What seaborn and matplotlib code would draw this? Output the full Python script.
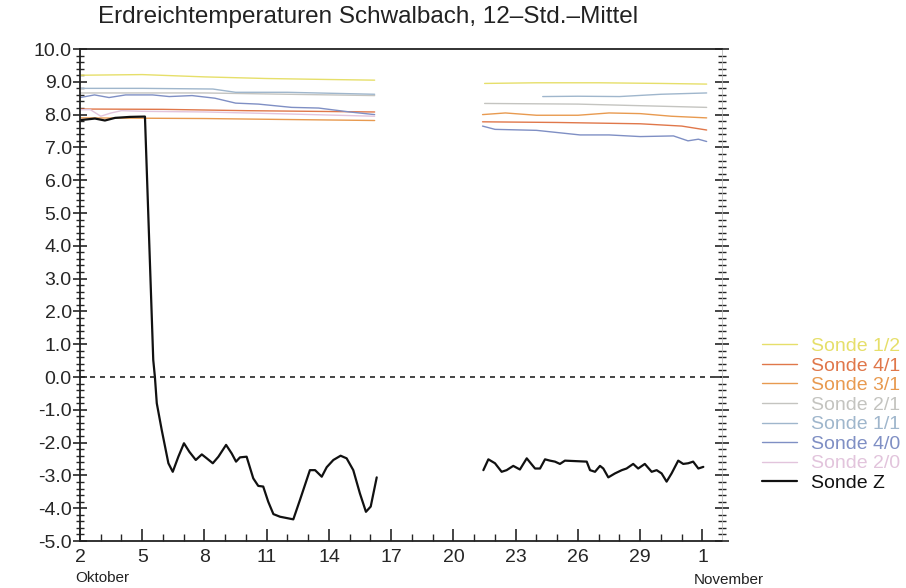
import numpy as np
import pandas as pd
import matplotlib
matplotlib.use("Agg")
import matplotlib.pyplot as plt
import seaborn as sns
from matplotlib.ticker import MultipleLocator, FixedLocator
from matplotlib.lines import Line2D

# day numbers counted in October (32 = 1. November)
z_day_1 = [2.0, 2.72, 3.2, 3.69, 4.41, 5.13, 5.53, 5.61, 5.70, 5.94, 6.26, 6.47, 6.74,
           7.01, 7.27, 7.58, 7.87, 8.11, 8.40, 8.67, 9.04, 9.31, 9.52, 9.71, 10.03,
           10.35, 10.59, 10.83, 11.07, 11.32, 11.64, 12.28, 12.60, 13.08, 13.33, 13.65,
           13.89, 14.21, 14.56, 14.85, 15.17, 15.49, 15.78, 16.01, 16.30]
z_temp_1 = [7.83, 7.88, 7.82, 7.90, 7.93, 7.94, 0.52, 0.0, -0.8, -1.62, -2.63, -2.89, -2.43,
            -2.02, -2.28, -2.53, -2.36, -2.48, -2.63, -2.43, -2.07, -2.33, -2.58, -2.45, -2.43,
            -3.09, -3.32, -3.34, -3.80, -4.18, -4.26, -4.34, -3.75, -2.84, -2.84, -3.04,
            -2.75, -2.53, -2.40, -2.48, -2.84, -3.55, -4.11, -3.95, -3.06]
z_day_2 = [21.44, 21.68, 22.0, 22.32, 22.56, 22.88, 23.2, 23.53, 23.93, 24.17, 24.41, 24.65,
           24.89, 25.13, 25.37, 26.42, 26.58, 26.82, 27.06, 27.22, 27.46, 27.78, 28.11,
           28.34, 28.66, 28.9, 29.22, 29.55, 29.79, 30.03, 30.27, 30.51, 30.83, 31.07,
           31.31, 31.55, 31.8, 32.04]
z_temp_2 = [-2.84, -2.51, -2.63, -2.89, -2.84, -2.71, -2.82, -2.48, -2.79, -2.79, -2.51, -2.55,
            -2.58, -2.65, -2.55, -2.58, -2.84, -2.89, -2.71, -2.79, -3.06, -2.94, -2.84,
            -2.79, -2.65, -2.79, -2.65, -2.89, -2.84, -2.94, -3.19, -2.94, -2.55, -2.65,
            -2.63, -2.58, -2.79, -2.74]

# Sonde 1/2
s12_day_1 = [2, 5, 8, 11, 14, 16.2]
s12_temp_1 = [9.2, 9.22, 9.15, 9.1, 9.07, 9.05]
s12_day_2 = [21.5, 24, 27, 30, 32.2]
s12_temp_2 = [8.95, 8.97, 8.97, 8.95, 8.93]
# Sonde 4/1
s41_day_1 = [2, 6, 10, 16.2]
s41_temp_1 = [8.17, 8.16, 8.12, 8.08]
s41_day_2 = [21.4, 25, 29, 31, 32.2]
s41_temp_2 = [7.78, 7.76, 7.72, 7.65, 7.53]
# Sonde 3/1
s31_day_1 = [2, 8, 12, 16.2]
s31_temp_1 = [7.9, 7.88, 7.85, 7.82]
s31_day_2 = [21.4, 22.5, 24, 26, 27.5, 29, 30.5, 32.2]
s31_temp_2 = [8.0, 8.05, 7.98, 7.98, 8.05, 8.03, 7.95, 7.9]
# Sonde 2/1
s21_day_1 = [2, 8, 12, 16.2]
s21_temp_1 = [8.66, 8.66, 8.62, 8.58]
s21_day_2 = [21.5, 26, 32.2]
s21_temp_2 = [8.34, 8.32, 8.22]
# Sonde 1/1
s11_day_1 = [2, 5, 8.4, 9.5, 12, 16.2]
s11_temp_1 = [8.8, 8.8, 8.78, 8.68, 8.68, 8.62]
s11_day_2 = [24.3, 26, 28, 30, 32.2]
s11_temp_2 = [8.55, 8.56, 8.55, 8.62, 8.66]
# Sonde 4/0
s40_day_1 = [2, 2.7, 3.4, 4.2, 5.5, 6.3, 7.4, 8.5, 9.5, 10.6, 12.2, 13.5, 15, 16.2]
s40_temp_1 = [8.52, 8.6, 8.52, 8.6, 8.6, 8.55, 8.58, 8.5, 8.35, 8.32, 8.22, 8.2, 8.08, 8.0]
s40_day_2 = [21.4, 22, 24, 26.1, 27.5, 29, 30.6, 31.3, 31.8, 32.2]
s40_temp_2 = [7.65, 7.55, 7.52, 7.38, 7.38, 7.33, 7.35, 7.2, 7.25, 7.18]
# Sonde 2/0
s20_day_1 = [2, 2.5, 3.0, 3.5, 4.0, 5.0, 8, 12, 16.2]
s20_temp_1 = [8.15, 8.15, 7.95, 8.05, 8.12, 8.1, 8.08, 8.02, 7.95]

tick_days = [2, 5, 8, 11, 14, 17, 20, 23, 26, 29, 32]
tick_labels = ["2", "5", "8", "11", "14", "17", "20", "23", "26", "29", "1"]

series = [
    ("Sonde 1/2", "#e6df6a", [(s12_day_1, s12_temp_1), (s12_day_2, s12_temp_2)]),
    ("Sonde 4/1", "#e0774a", [(s41_day_1, s41_temp_1), (s41_day_2, s41_temp_2)]),
    ("Sonde 3/1", "#e89a50", [(s31_day_1, s31_temp_1), (s31_day_2, s31_temp_2)]),
    ("Sonde 2/1", "#c4c4c0", [(s21_day_1, s21_temp_1), (s21_day_2, s21_temp_2)]),
    ("Sonde 1/1", "#9fb6cc", [(s11_day_1, s11_temp_1), (s11_day_2, s11_temp_2)]),
    ("Sonde 4/0", "#7f8fc4", [(s40_day_1, s40_temp_1), (s40_day_2, s40_temp_2)]),
    ("Sonde 2/0", "#e2c4dc", [(s20_day_1, s20_temp_1)]),
    ("Sonde Z", "#111111", [(z_day_1, z_temp_1), (z_day_2, z_temp_2)]),
]

sns.set_theme(style="ticks")
plt.rcParams["font.family"] = ["Liberation Sans", "DejaVu Sans"]

fig = plt.figure(figsize=(9.06, 5.88), dpi=100)
ax = fig.add_axes([80 / 906, 1 - 541 / 588, 642 / 906, 492 / 588])

handles = []
for name, col, segs in series:
    lw = 1.6 if name == "Sonde Z" else 1.0
    for d, t in segs:
        seg_df = pd.DataFrame({"day": d, "temp": t})
        sns.lineplot(data=seg_df, x="day", y="temp", color=col, linewidth=lw,
                     sort=False, estimator=None, ax=ax)
    handles.append(Line2D([0], [0], color=col, lw=lw, label=name))

ax.axhline(0, color="#222222", lw=1.2, ls=(0, (3, 3)))

ax.set_xlim(2, 32.94)
ax.set_ylim(-5, 10)
ax.set_xlabel("")
ax.set_ylabel("")

ax.xaxis.set_major_locator(FixedLocator(tick_days))
ax.set_xticklabels(tick_labels, fontsize=14)
ax.xaxis.set_minor_locator(MultipleLocator(1))
ax.yaxis.set_major_locator(MultipleLocator(1))
ax.yaxis.set_minor_locator(MultipleLocator(0.2))
ax.set_yticks(np.arange(-5, 10.5, 1))
ax.set_yticklabels([f"{v:.1f}" for v in np.arange(-5, 10.5, 1)], fontsize=14)

ax.tick_params(axis="x", which="major", direction="in", length=9, width=1.2, top=False, pad=6)
ax.tick_params(axis="x", which="minor", direction="in", length=5, width=1.0, top=False)
ax.tick_params(axis="y", which="major", direction="inout", length=10, width=1.2,
               left=True, right=True, pad=1)
ax.tick_params(axis="y", which="minor", direction="inout", length=6, width=1.0,
               left=True, right=True)
for s in ["left", "bottom", "right", "top"]:
    ax.spines[s].set_visible(True)
    ax.spines[s].set_color("#222222")
    ax.spines[s].set_linewidth(1.3)
ax.spines["right"].set_linewidth(0.6)
ax.spines["right"].set_color("#bbbbbb")

fig.text(98 / 906, 1 - 17 / 588, "Erdreichtemperaturen Schwalbach, 12–Std.–Mittel",
         fontsize=17.5, ha="left", va="center", color="#222222")
fig.text(75 / 906, 1 - 578 / 588, "Oktober", fontsize=11, ha="left", va="center", color="#222222")
fig.text(694 / 906, 1 - 580 / 588, "November", fontsize=11, ha="left", va="center", color="#222222")

leg = fig.legend(handles=handles, loc="upper left",
                 bbox_to_anchor=(744 / 906, 1 - 320 / 588), bbox_transform=fig.transFigure,
                 frameon=False, fontsize=14, handlelength=1.8, handletextpad=0.75,
                 labelspacing=0.1, labelcolor="linecolor")

fig.savefig("out.png", dpi=100, facecolor="white")
